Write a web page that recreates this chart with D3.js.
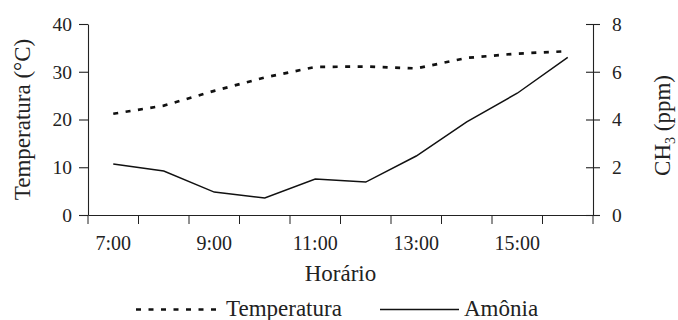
<!DOCTYPE html>
<html>
<head>
<meta charset="utf-8">
<script src="https://cdn.jsdelivr.net/npm/d3@7"></script>
<style>
  body { margin: 0; background: #fff; }
  svg text { font-family: "Liberation Serif", "Times New Roman", serif; fill: #222; }
</style>
</head>
<body>
<div id="chart"></div>
<script>
// horas do dia (categorias do eixo x)
var horas = ["7:00", "8:00", "9:00", "10:00", "11:00", "12:00", "13:00", "14:00", "15:00", "16:00"];
var horasRotulo = ["7:00", "9:00", "11:00", "13:00", "15:00"];
// temperatura em °C (eixo esquerdo)
var temperatura = [21.2, 22.9, 26.0, 28.8, 31.0, 31.1, 30.7, 32.9, 33.8, 34.3];
// amonia em ppm (eixo direito)
var amonia = [2.14, 1.84, 0.96, 0.71, 1.51, 1.38, 2.47, 3.9, 5.1, 6.6];
var ticksEsq = [0, 10, 20, 30, 40];
var ticksDir = [0, 2, 4, 6, 8];

var width = 678, height = 320;
// "top" e uma global do navegador, por isso mTop
var mLeft = 88, mRight = 593, mTop = 24, mBottom = 215;

var svg = d3.select("#chart").append("svg")
  .attr("width", width)
  .attr("height", height);

var x = d3.scaleBand().domain(horas).range([mLeft, mRight]).paddingInner(0).paddingOuter(0);
var yL = d3.scaleLinear().domain([0, 40]).range([mBottom, mTop]);
var yR = d3.scaleLinear().domain([0, 8]).range([mBottom, mTop]);

var cor = "#222";

// eixo esquerdo
var eixoEsq = svg.append("g")
  .attr("transform", "translate(" + mLeft + ",0)")
  .call(d3.axisLeft(yL).tickValues(ticksEsq).tickSize(9).tickSizeOuter(0).tickPadding(7));
eixoEsq.selectAll("text").style("font-size", "19.5px");

// eixo direito, ticks cruzando a linha
var eixoDir = svg.append("g")
  .attr("transform", "translate(" + mRight + ",0)")
  .call(d3.axisRight(yR).tickValues(ticksDir).tickSize(7).tickSizeOuter(0).tickPadding(12));
eixoDir.selectAll(".tick line").attr("x1", -7);
eixoDir.selectAll("text").style("font-size", "19.5px");

// eixo x: linha e ticks nas divisas das categorias
var eixoX = svg.append("g")
  .attr("transform", "translate(0," + mBottom + ")")
  .call(d3.axisBottom(x).tickValues(horasRotulo).tickSize(0).tickSizeOuter(0).tickPadding(21));
eixoX.selectAll("text").style("font-size", "20px");

var divisas = horas.map(function(h) { return x(h); }).concat([mRight]);
svg.append("g").selectAll("line")
  .data(divisas)
  .enter().append("line")
  .attr("x1", function(d) { return d; })
  .attr("x2", function(d) { return d; })
  .attr("y1", mBottom)
  .attr("y2", mBottom + 9)
  .attr("stroke", cor);

svg.selectAll(".domain, .tick line").attr("stroke", cor).attr("stroke-width", 1.1);

// linhas
var linhaTemp = d3.line()
  .x(function(d, i) { return x(horas[i]) + x.bandwidth() / 2; })
  .y(function(d) { return yL(d); });
var linhaAmo = d3.line()
  .x(function(d, i) { return x(horas[i]) + x.bandwidth() / 2; })
  .y(function(d) { return yR(d); });

svg.append("path")
  .datum(temperatura)
  .attr("d", linhaTemp)
  .attr("fill", "none")
  .attr("stroke", "#111")
  .attr("stroke-width", 2.7)
  .attr("stroke-dasharray", "5,7.5");

svg.append("path")
  .datum(amonia)
  .attr("d", linhaAmo)
  .attr("fill", "none")
  .attr("stroke", "#111")
  .attr("stroke-width", 1.5);

// titulos
svg.append("text")
  .attr("transform", "translate(30," + ((mTop + mBottom) / 2) + ") rotate(-90)")
  .attr("text-anchor", "middle")
  .style("font-size", "23px")
  .text("Temperatura (°C)");

var tDir = svg.append("text")
  .attr("transform", "translate(670," + ((mTop + mBottom) / 2 + 6) + ") rotate(-90)")
  .attr("text-anchor", "middle")
  .style("font-size", "23px");
tDir.append("tspan").text("CH");
tDir.append("tspan").attr("dy", 5).style("font-size", "14px").text("3");
tDir.append("tspan").attr("dy", -5).text(" (ppm)");

svg.append("text")
  .attr("x", (mLeft + mRight) / 2)
  .attr("y", 281)
  .attr("text-anchor", "middle")
  .style("font-size", "23px")
  .text("Horário");

// legenda
var legY = 309.5;
svg.append("line")
  .attr("x1", 136).attr("x2", 218).attr("y1", legY).attr("y2", legY)
  .attr("stroke", "#111").attr("stroke-width", 2.7).attr("stroke-dasharray", "5,7.5");
svg.append("text").attr("x", 226).attr("y", 316).style("font-size", "23px").text("Temperatura");
svg.append("line")
  .attr("x1", 380).attr("x2", 459).attr("y1", legY).attr("y2", legY)
  .attr("stroke", "#111").attr("stroke-width", 1.5);
svg.append("text").attr("x", 464).attr("y", 316).style("font-size", "23px").text("Amônia");
</script>
</body>
</html>
